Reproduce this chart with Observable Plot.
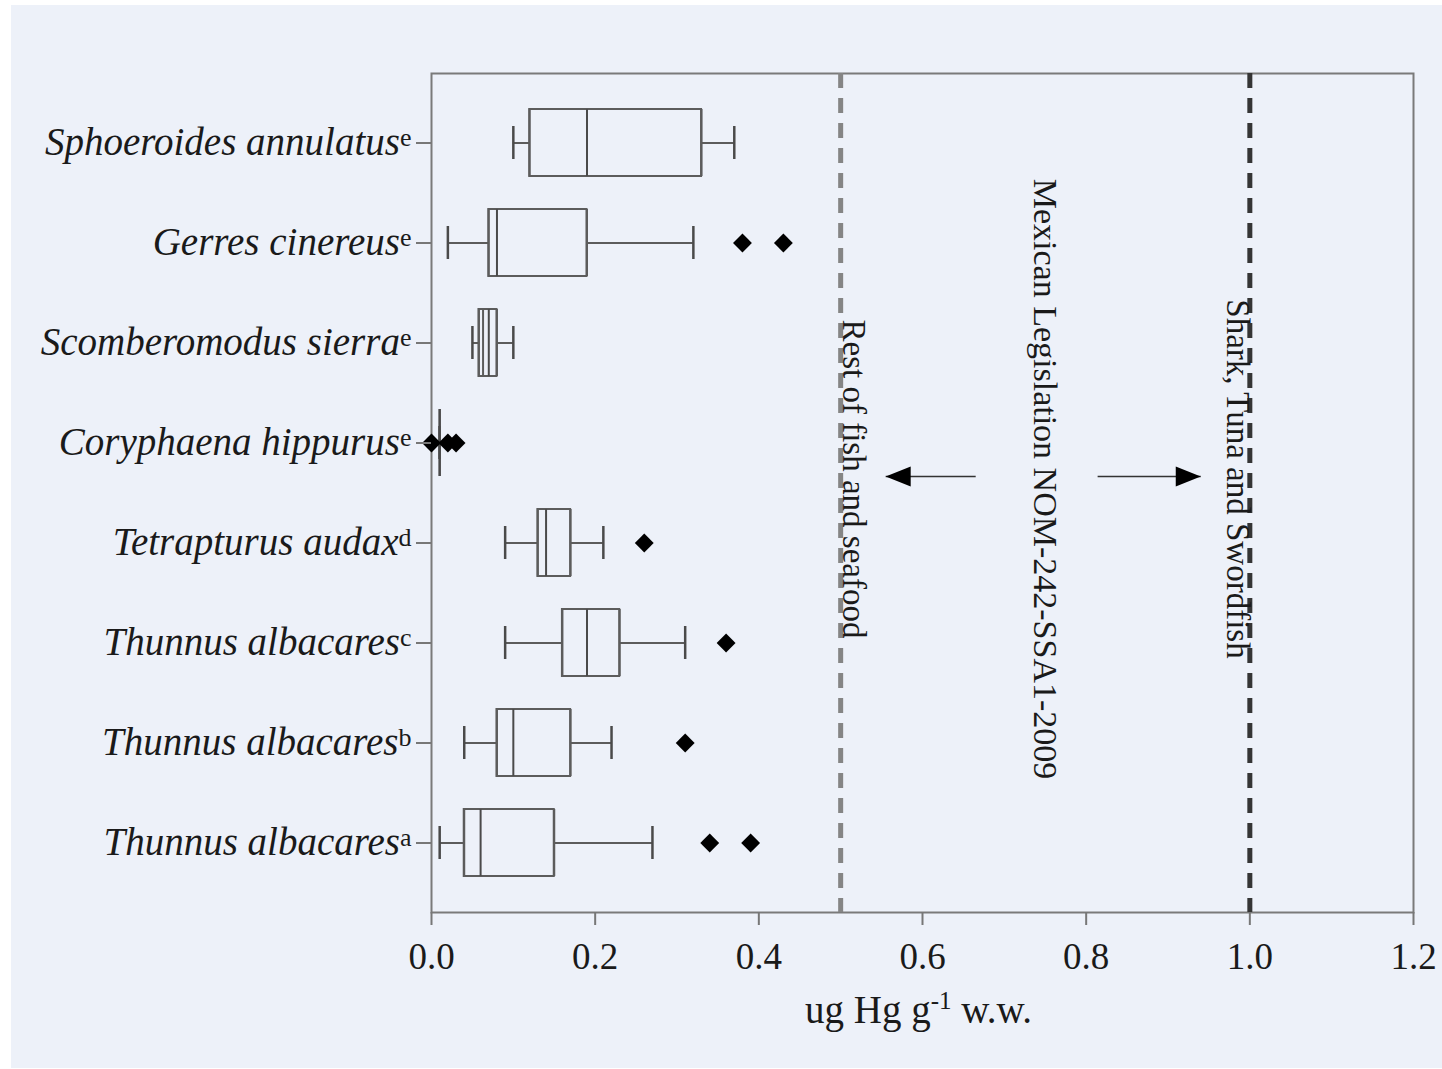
<!DOCTYPE html>
<html><head><meta charset="utf-8">
<script src="https://cdn.jsdelivr.net/npm/d3@7"></script>
<script src="https://cdn.jsdelivr.net/npm/@observablehq/plot@0.6"></script>
<style>
html,body{margin:0;padding:0;background:#fff;}
#bg{position:absolute;left:11px;top:5px;width:1431px;height:1063px;background:#edf1f9;}
#chart{position:absolute;left:0;top:0;}
</style></head><body><div id="bg"></div><div id="chart"></div>
<script>
// ---- data ----
const species = ["Sphoeroides annulatus","Gerres cinereus","Scomberomodus sierra","Coryphaena hippurus","Tetrapturus audax","Thunnus albacares","Thunnus albacares","Thunnus albacares"];
const groupSup = ["e","e","e","e","d","c","b","a"];
const whiskerLow  = [0.10, 0.02, 0.05, 0.01, 0.09, 0.09, 0.04, 0.01];
const q1          = [0.12, 0.07, 0.058,0.01, 0.13, 0.16, 0.08, 0.04];
const median      = [0.19, 0.08, 0.07, 0.01, 0.14, 0.19, 0.10, 0.06];
const q3          = [0.33, 0.19, 0.08, 0.01, 0.17, 0.23, 0.17, 0.15];
const whiskerHigh = [0.37, 0.32, 0.10, 0.01, 0.21, 0.31, 0.22, 0.27];
const meanLine    = [null, null, 0.063, null, null, null, null, null];
const outlierGroup = [1, 1, 3, 3, 3, 4, 5, 6, 7, 7];
const outlierValue = [0.38, 0.43, 0.0, 0.02, 0.03, 0.26, 0.36, 0.31, 0.34, 0.39];
const xTicks = [0, 0.2, 0.4, 0.6, 0.8, 1.0, 1.2];
const limits = [0.5, 1.0];
const annotText = ["Rest of fish and seafood", "Mexican Legislation NOM-242-SSA1-2009", "Shark, Tuna and Swordfish"];
const annotX = [0.516, 0.749, 0.985];
const annotSize = [33, 34, 33];
const arrowFrom = [0.665, 0.814];
const arrowTo = [0.555, 0.940];
const xLabel = ["ug Hg g", "-1", " w.w."];

// ---- build tables ----
const keys = species.map((s, i) => s + "|" + groupSup[i]);
const boxes = keys.map((k, i) => ({k, lo: whiskerLow[i], q1: q1[i], med: median[i], q3: q3[i], hi: whiskerHigh[i], mean: meanLine[i]}));
const means = boxes.filter(d => d.mean != null);
const outliers = outlierGroup.map((g, n) => ({k: keys[g], v: outlierValue[n]}));
const annots = annotText.map((t, i) => ({t, x: annotX[i], s: annotSize[i]}));
const arrowKey = keys[3];
const arrows = arrowFrom.map((f, i) => ({k: arrowKey, x1: f, x2: arrowTo[i]}));
const xLabelText = xLabel.join("");

const arrowHead = {draw(ctx) { ctx.moveTo(0, 0); ctx.lineTo(-25, -10); ctx.lineTo(-25, 10); ctx.closePath(); }};

const boxStroke = "#5c5c5c";
const capInset = 17;
const arrowDy = 33.5;

const chart = Plot.plot({
  width: 1442, height: 1069,
  marginLeft: 431, marginRight: 29, marginTop: 73, marginBottom: 157,
  style: {fontFamily: "'Liberation Serif', 'Times New Roman', serif", fontSize: "37px", background: "transparent", color: "#1a1a1a"},
  x: {domain: [0, 1.2]},
  y: {type: "band", domain: keys, paddingInner: 0.333, paddingOuter: 0.354},
  marks: [
    Plot.frame({stroke: "#7a7a7a", strokeWidth: 2}),
    Plot.ruleX([limits[0]], {stroke: "#858585", strokeWidth: 5, strokeDasharray: "15,10"}),
    Plot.ruleX([limits[1]], {stroke: "#353535", strokeWidth: 5, strokeDasharray: "15,10"}),
    // whiskers
    Plot.ruleY(boxes, {y: "k", x1: "lo", x2: "q1", stroke: boxStroke, strokeWidth: 2}),
    Plot.ruleY(boxes, {y: "k", x1: "q3", x2: "hi", stroke: boxStroke, strokeWidth: 2}),
    Plot.tickX(boxes, {y: "k", x: "lo", insetTop: capInset, insetBottom: capInset, stroke: "#4a4a4a", strokeWidth: 2.5}),
    Plot.tickX(boxes, {y: "k", x: "hi", insetTop: capInset, insetBottom: capInset, stroke: "#4a4a4a", strokeWidth: 2.5}),
    // boxes
    Plot.barX(boxes, {y: "k", x1: "q1", x2: "q3", fill: "none", stroke: boxStroke, strokeWidth: 2}),
    Plot.tickX(boxes, {y: "k", x: "q1", stroke: boxStroke, strokeWidth: 2}),
    Plot.tickX(boxes, {y: "k", x: "q3", stroke: boxStroke, strokeWidth: 2}),
    Plot.tickX(boxes, {y: "k", x: "med", stroke: "#4a4a4a", strokeWidth: 2}),
    Plot.tickX(means, {y: "k", x: "mean", stroke: boxStroke, strokeWidth: 2}),
    // outliers
    Plot.dot(outliers, {y: "k", x: "v", symbol: "diamond2", r: 8.5, fill: "#000", stroke: "none"}),
    // axes
    Plot.axisX({ticks: xTicks, tickFormat: d3.format(".1f"), tickSize: 13, tickPadding: 17, fontSize: 37, label: null, stroke: "#777", strokeWidth: 2, fill: "#1a1a1a"}),
    Plot.axisY({tickSize: 15, tickPadding: 5, fontSize: 39, label: null, stroke: "#777", strokeWidth: 2, fill: "#1a1a1a"}),
    // annotations
    Plot.text(annots, {x: "x", text: "t", rotate: 90, frameAnchor: "middle", dy: -14, fontSize: "s", fill: "#1a1a1a"}),
    Plot.link(arrows, {x1: "x1", x2: "x2", y1: "k", y2: "k", dy: arrowDy, stroke: "#333", strokeWidth: 1.5}),
    Plot.dot([arrows[0]], {x: "x2", y: "k", dy: arrowDy, symbol: arrowHead, rotate: 180, fill: "#000", stroke: "none"}),
    Plot.dot([arrows[1]], {x: "x2", y: "k", dy: arrowDy, symbol: arrowHead, rotate: 0, fill: "#000", stroke: "none"}),
    Plot.text([xLabelText], {text: d => d, frameAnchor: "bottom", dx: -4, dy: 110, fontSize: 39, fill: "#1a1a1a"})
  ]
});
document.getElementById("chart").appendChild(chart);

// rich text: italic species names with group superscripts
const svg = d3.select(chart);
svg.selectAll('g[aria-label="y-axis tick label"] text').each(function() {
  const t = d3.select(this);
  const [name, sup] = t.text().split("|");
  t.text(null);
  t.append("tspan").attr("font-style", "italic").text(name);
  t.append("tspan").attr("font-size", 26).attr("dy", -9).text(sup);
});
svg.selectAll("text").filter(function() { return this.textContent === xLabelText; }).each(function() {
  const t = d3.select(this);
  t.text(null);
  t.append("tspan").text(xLabel[0]);
  t.append("tspan").attr("font-size", 25).attr("dy", -14).text(xLabel[1]);
  t.append("tspan").attr("dy", 14).text(xLabel[2]);
});
</script></body></html>
